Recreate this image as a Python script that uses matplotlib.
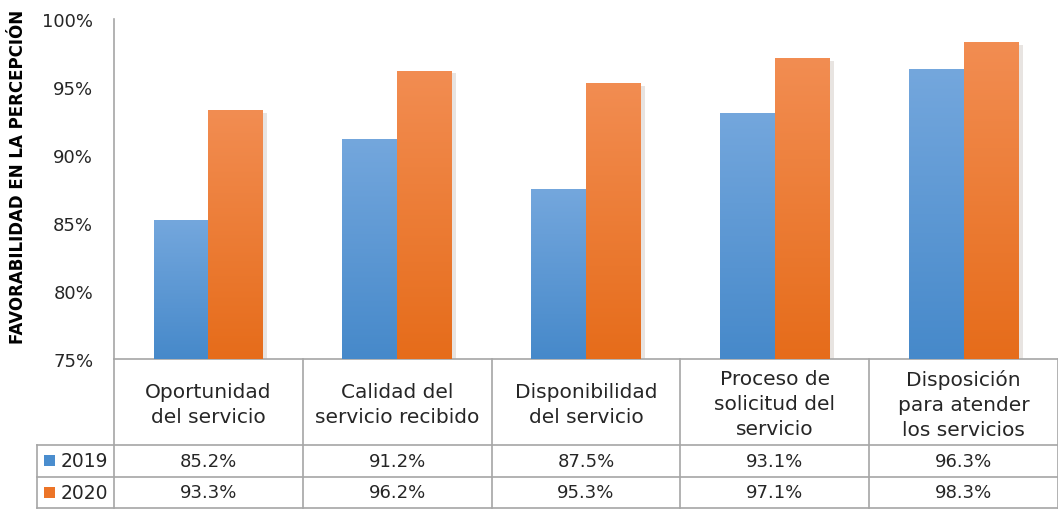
import numpy as np
import matplotlib
matplotlib.use('Agg')
import matplotlib.pyplot as plt
import matplotlib.patheffects as pe
from matplotlib.colors import LinearSegmentedColormap
from matplotlib.patches import Rectangle
from matplotlib.transforms import blended_transform_factory

# data
categories = ['Oportunidad\ndel servicio', 'Calidad del\nservicio recibido',
              'Disponibilidad\ndel servicio', 'Proceso de\nsolicitud del\nservicio',
              'Disposición\npara atender\nlos servicios']
years = ['2019', '2020']
vals_2019 = [85.2, 91.2, 87.5, 93.1, 96.3]
vals_2020 = [93.3, 96.2, 95.3, 97.1, 98.3]
yticks = [75, 80, 85, 90, 95, 100]

W, H = 1058, 510
fig = plt.figure(figsize=(W / 100, H / 100), dpi=100)
ax = fig.add_axes([114 / W, 150 / H, 944 / W, 340 / H])

txt = '#262626'
line = '#a6a6a6'

grads = {
    '2019': ('#74a7dd', '#4689ca'),
    '2020': ('#f28d52', '#e66c1a'),
}
legend_col = {'2019': '#4a8dce', '2020': '#ec7427'}

x = np.arange(len(categories))
bw = 0.29
for i, (yr, vals) in enumerate(zip(years, [vals_2019, vals_2020])):
    bars = ax.bar(x + (i - 0.5) * bw, np.array(vals) - 75, bw, bottom=75,
                  color=legend_col[yr], linewidth=0, zorder=2)
    cmap = LinearSegmentedColormap.from_list(yr, [grads[yr][1], grads[yr][0]])
    grad = np.linspace(0, 1, 256).reshape(-1, 1)
    for b in bars:
        b.set_path_effects([pe.SimplePatchShadow(offset=(3, -2), alpha=0.12), pe.Normal()])
        x0, y0 = b.get_x(), b.get_y()
        im = ax.imshow(grad, cmap=cmap, origin='lower', aspect='auto',
                       extent=[x0, x0 + b.get_width(), y0, y0 + b.get_height()], zorder=3)
        im.set_clip_path(b)

ax.set_xlim(-0.5, len(categories) - 0.5)
ax.set_ylim(75, 100)
ax.set_yticks(yticks)
ax.set_yticklabels([f'{v}%' for v in yticks], fontsize=13, color=txt)
ax.tick_params(axis='y', length=0, pad=15)
ax.set_xticks([])
for s in ['top', 'right']:
    ax.spines[s].set_visible(False)
ax.spines['left'].set_color(line)
ax.spines['bottom'].set_color(line)
ax.spines['left'].set_linewidth(1.2)
ax.spines['bottom'].set_linewidth(1.2)

ax.set_ylabel('FAVORABILIDAD EN LA PERCEPCIÓN', fontsize=12, fontweight='bold',
              color='black')
ax.yaxis.set_label_coords(-87 / 944, (360 - 177) / 340)

# data table below the axes
tr = blended_transform_factory(ax.transData, ax.transAxes)
px = 1 / 340
dx = 1 / 188.8
y_head = -86 * px
y_r1 = -118 * px
y_r2 = -149 * px
x_left = -0.5 - 77 * dx

kw = dict(transform=tr, clip_on=False, color=line, lw=1.2)
for b in np.arange(0.5, len(categories), 1):
    ax.plot([b, b], [0, y_r2], **kw)
ax.plot([-0.5, -0.5], [0, y_r2], **kw)
ax.plot([x_left, x_left], [y_head, y_r2], **kw)
for yy in [y_head, y_r1, y_r2]:
    ax.plot([x_left, len(categories) - 0.5], [yy, yy], **kw)

for i, c in enumerate(categories):
    ax.text(i, y_head / 2 - 2 * px, c, transform=tr, ha='center', va='center',
            fontsize=14.5, color=txt, linespacing=1.4)

for r, (yr, vals) in enumerate(zip(years, [vals_2019, vals_2020])):
    yc = [(y_head + y_r1) / 2, (y_r1 + y_r2) / 2][r]
    ax.add_patch(Rectangle((x_left + 7 * dx, yc - 5.5 * px), 11 * dx, 11 * px,
                           transform=tr, clip_on=False, color=legend_col[yr], lw=0))
    ax.text(x_left + 24 * dx, yc, yr, transform=tr, ha='left', va='center',
            fontsize=13.5, color=txt)
    for i, v in enumerate(vals):
        ax.text(i, yc, f'{v:.1f}%', transform=tr, ha='center', va='center',
                fontsize=13, color=txt)

fig.savefig('out.png', dpi=100)
